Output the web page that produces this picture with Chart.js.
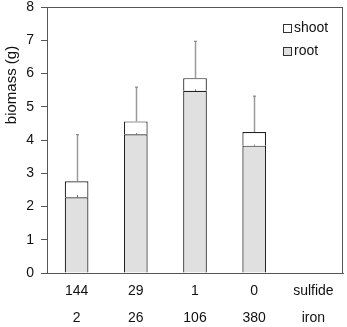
<!DOCTYPE html>
<html>
<head>
<meta charset="utf-8">
<script src="https://cdn.jsdelivr.net/npm/chart.js@4"></script>
<style>
  body { margin: 0; background: #fff; }
  #wrap { width: 347px; height: 327px; }
</style>
</head>
<body>
<div id="wrap"><canvas id="chart"></canvas></div>
<script>
// --- data ---
const sulfide = ['144', '29', '1', '0', 'sulfide'];
const iron = ['2', '26', '106', '380', 'iron'];
const rootMass = [2.28, 4.17, 5.48, 3.83, null];
const shootMass = [0.48, 0.39, 0.38, 0.41, null];
const totalErr = [1.40, 1.03, 1.11, 1.08, null];
const rootErr = [0.06, 0.03, 0.04, 0.03, null];
const yTicks = [0, 1, 2, 3, 4, 5, 6, 7, 8];

const FONT = "'Liberation Sans', Arial, sans-serif";
const frameColor = '#555';
const rootFill = '#e0e0e0';

// x labels are two lines: sulfide over iron
const labels = sulfide.map((s, i) => [s, iron[i]]);

// frame round the plot area
const framePlugin = {
    id: 'frame',
    afterDraw(chart) {
        const { ctx, chartArea: a } = chart;
        ctx.save();
        ctx.strokeStyle = frameColor;
        ctx.lineWidth = 1;
        ctx.strokeRect(a.left + 0.5, a.top + 0.5, a.right - a.left - 1, a.bottom - a.top);
        ctx.restore();
    }
};

// upper error bars on top of root and of the stack
const errorPlugin = {
    id: 'errors',
    afterDatasetsDraw(chart) {
        const { ctx } = chart;
        const y = chart.scales.y;
        const meta = chart.getDatasetMeta(0);
        ctx.save();
        meta.data.forEach((bar, i) => {
            if (rootMass[i] == null) return;
            const x = Math.round(bar.x) + 0.5;
            const total = rootMass[i] + shootMass[i];
            const y0 = y.getPixelForValue(total);
            const y1 = y.getPixelForValue(total + totalErr[i]);
            ctx.strokeStyle = '#9a9a9a';
            ctx.lineWidth = 1.5;
            ctx.beginPath();
            ctx.moveTo(x, y0);
            ctx.lineTo(x, y1);
            ctx.stroke();
            ctx.strokeStyle = '#777';
            ctx.lineWidth = 1;
            ctx.beginPath();
            ctx.moveTo(x - 1.5, y1);
            ctx.lineTo(x + 1.5, y1);
            ctx.stroke();
            // tiny root error
            const r0 = y.getPixelForValue(rootMass[i]);
            const r1 = y.getPixelForValue(rootMass[i] + rootErr[i]);
            ctx.strokeStyle = '#555';
            ctx.beginPath();
            ctx.moveTo(x, r0);
            ctx.lineTo(x, r1);
            ctx.stroke();
        });
        ctx.restore();
    }
};

// y title and legend drawn by hand, placed like the original
const textPlugin = {
    id: 'texts',
    afterDraw(chart) {
        const { ctx } = chart;
        ctx.save();
        ctx.fillStyle = '#111';
        ctx.font = '15px ' + FONT;
        ctx.textAlign = 'center';
        ctx.textBaseline = 'middle';
        ctx.translate(12, 85);
        ctx.rotate(-Math.PI / 2);
        ctx.fillText('biomass (g)', 0, 0);
        ctx.restore();

        ctx.save();
        ctx.font = '14px ' + FONT;
        ctx.textBaseline = 'middle';
        chart.data.datasets.slice().reverse().forEach((ds, k) => {
            const top = 24 + k * 23;
            ctx.fillStyle = ds.backgroundColor;
            ctx.fillRect(283, top, 8, 8);
            ctx.strokeStyle = '#333';
            ctx.lineWidth = 1;
            ctx.strokeRect(283.5, top + 0.5, 8, 8);
            ctx.fillStyle = '#111';
            ctx.fillText(ds.label, 294, top + 4);
        });
        ctx.restore();
    }
};

new Chart(document.getElementById('chart'), {
    type: 'bar',
    data: {
        labels: labels,
        datasets: [
            { label: 'root', data: rootMass, backgroundColor: rootFill },
            { label: 'shoot', data: shootMass, backgroundColor: '#ffffff' }
        ]
    },
    options: {
        responsive: true,
        maintainAspectRatio: false,
        animation: false,
        layout: { padding: { top: 7, right: 4, left: 0, bottom: 0 } },
        datasets: {
            bar: {
                borderColor: '#222',
                borderWidth: 1.2,
                categoryPercentage: 1,
                barPercentage: 0.4
            }
        },
        plugins: {
            legend: { display: false },
            tooltip: { enabled: false }
        },
        scales: {
            x: {
                stacked: true,
                grid: { display: false, drawTicks: false },
                border: { display: true, color: frameColor },
                ticks: {
                    color: '#111',
                    padding: 5,
                    maxRotation: 0,
                    font: { family: FONT, size: 14, lineHeight: 27 / 14 }
                },
                afterFit(s) { s.height = 54; s.paddingLeft = 0; s.paddingRight = 0; }
            },
            y: {
                stacked: true,
                min: 0,
                max: 8,
                grid: { drawOnChartArea: false, drawTicks: true, tickLength: 6, color: frameColor },
                border: { display: true, color: frameColor },
                afterBuildTicks(s) { s.ticks = yTicks.map(v => ({ value: v })); },
                ticks: {
                    color: '#111',
                    padding: 7,
                    font: { family: FONT, size: 14 }
                },
                afterFit(s) { s.width = 47; s.paddingTop = 0; s.paddingBottom = 0; }
            }
        }
    },
    plugins: [framePlugin, errorPlugin, textPlugin]
});
</script>
</body>
</html>
